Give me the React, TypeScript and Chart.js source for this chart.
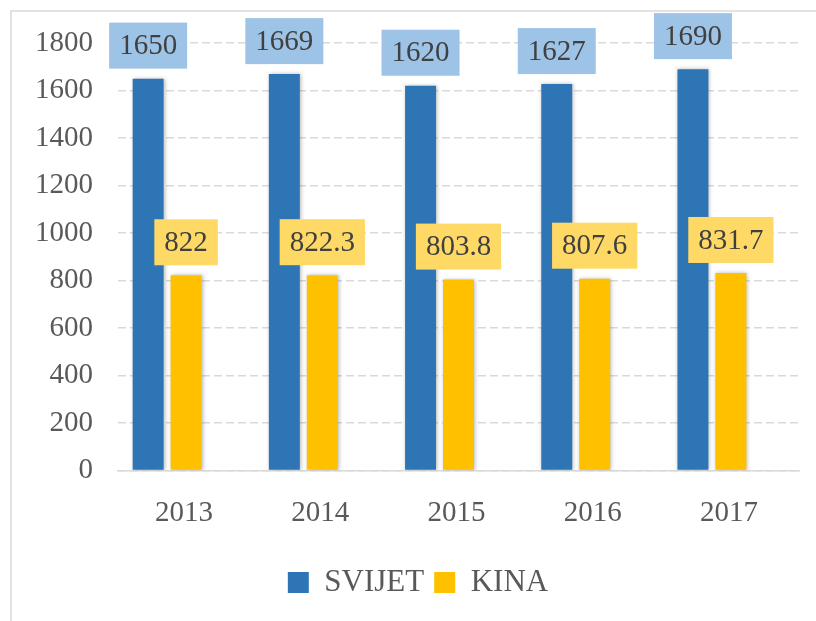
import React, { useEffect, useRef } from "react";
import { Chart, registerables } from "chart.js";

Chart.register(...registerables);

const categories = ["2013", "2014", "2015", "2016", "2017"];
const svijetValues = [1650, 1669, 1620, 1627, 1690];
const kinaValues = [822, 822.3, 803.8, 807.6, 831.7];
const seriesNames = ["SVIJET", "KINA"];
const yTicks = { min: 0, max: 1800, step: 200 };

const FONT = "'Liberation Serif', 'Times New Roman', serif";
const BLUE = "#2E75B6";
const YELLOW = "#FFC000";
const BLUE_LABEL = "#9DC3E6";
const YELLOW_LABEL = "#FFD966";

Chart.defaults.font.family = FONT;

const framePlugin = {
  id: "frame",
  beforeDraw(chart: any) {
    const { ctx, width, height } = chart;
    ctx.save();
    ctx.fillStyle = "#FFFFFF";
    ctx.fillRect(0, 0, width, height);
    ctx.strokeStyle = "#D9D9D9";
    ctx.lineWidth = 1.5;
    ctx.strokeRect(11, 11, width + 20, height + 20);
    ctx.restore();
  },
};

const shadowPlugin = {
  id: "barShadow",
  beforeDatasetsDraw(chart: any) {
    const ctx = chart.ctx;
    ctx.save();
    ctx.shadowColor = "rgba(0,0,0,0.28)";
    ctx.shadowBlur = 4;
    ctx.shadowOffsetX = 1;
    ctx.shadowOffsetY = 0;
  },
  afterDatasetsDraw(chart: any) {
    chart.ctx.restore();
  },
};

const labelPlugin = {
  id: "boxLabels",
  afterDatasetsDraw(chart: any) {
    const ctx = chart.ctx;
    ctx.save();
    ctx.font = `29px ${FONT}`;
    ctx.textAlign = "center";
    ctx.textBaseline = "middle";
    [0, 1].forEach((di) => {
      const meta = chart.getDatasetMeta(di);
      const ds = chart.data.datasets[di];
      meta.data.forEach((bar: any, i: number) => {
        const v = ds.data[i];
        const text = String(v);
        const w = ctx.measureText(text).width + 20;
        const h = 46;
        const bottom = bar.y - 10;
        ctx.fillStyle = di === 0 ? BLUE_LABEL : YELLOW_LABEL;
        ctx.fillRect(bar.x - w / 2, bottom - h, w, h);
        ctx.fillStyle = "#404040";
        ctx.fillText(text, bar.x, bottom - h / 2 + 1);
      });
    });
    ctx.restore();
  },
};

export default function App() {
  const ref = useRef<HTMLCanvasElement | null>(null);

  useEffect(() => {
    if (!ref.current) return;
    const chart = new Chart(ref.current, {
      type: "bar",
      data: {
        labels: categories,
        datasets: [
          {
            label: seriesNames[0],
            data: svijetValues,
            backgroundColor: BLUE,
            categoryPercentage: 0.836,
            barPercentage: 0.816,
          },
          {
            label: seriesNames[1],
            data: kinaValues,
            backgroundColor: YELLOW,
            categoryPercentage: 0.836,
            barPercentage: 0.816,
          },
          {
            label: "",
            data: categories.map(() => null),
            backgroundColor: "rgba(0,0,0,0)",
            categoryPercentage: 0.836,
            barPercentage: 0.816,
          },
        ],
      },
      options: {
        responsive: false,
        animation: false,
        layout: { padding: { top: 43, left: 37, right: 17, bottom: 13 } },
        plugins: {
          tooltip: { enabled: false },
          legend: {
            position: "bottom",
            labels: {
              filter: (item: any) => item.datasetIndex < 2,
              boxWidth: 21,
              boxHeight: 21,
              padding: 10,
              color: "#595959",
              font: { family: FONT, size: 31 },
            },
          },
        },
        scales: {
          x: {
            grid: { display: false, drawTicks: false },
            border: { display: true, color: "#D9D9D9", width: 1.5 },
            ticks: {
              color: "#595959",
              font: { family: FONT, size: 29 },
              padding: 25,
              labelOffset: -2,
            },
            afterFit: (axis: any) => {
              axis.height = 86.5;
            },
          },
          y: {
            min: yTicks.min,
            max: yTicks.max,
            grid: {
              color: "#D9D9D9",
              lineWidth: 1.5,
              drawTicks: false,
              borderDash: [8, 4],
            } as any,
            border: { display: false, dash: [8, 4] },
            ticks: {
              stepSize: yTicks.step,
              color: "#595959",
              font: { family: FONT, size: 29 },
              padding: 25,
              callback: (v: any) => String(v),
            },
            afterFit: (axis: any) => {
              axis.width = 81;
            },
          },
        },
      },
      plugins: [framePlugin, shadowPlugin, labelPlugin],
    } as any);
    return () => chart.destroy();
  }, []);

  return (
    <div style={{ position: "fixed", left: 0, top: 0, width: 816, height: 621 }}>
      <canvas ref={ref} width={816} height={621} />
    </div>
  );
}
